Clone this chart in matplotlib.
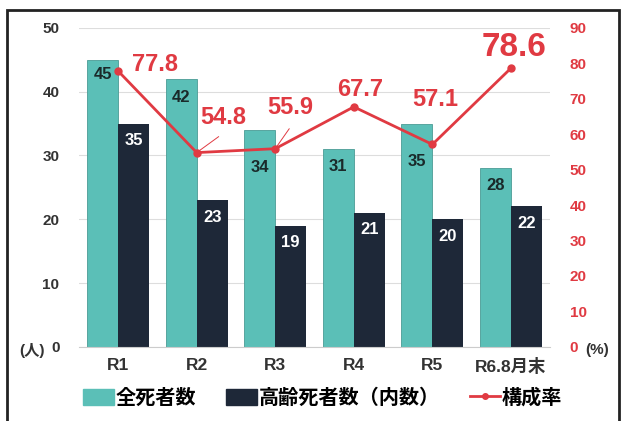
import numpy as np
import matplotlib.pyplot as plt
from matplotlib.patches import Rectangle
from matplotlib.lines import Line2D

plt.rcParams['font.family'] = ['Liberation Sans', 'Noto Sans CJK JP']
plt.rcParams['font.weight'] = 'bold'

# data
categories = ['R1', 'R2', 'R3', 'R4', 'R5', 'R6.8月末']
total_deaths = [45, 42, 34, 31, 35, 28]
elderly_deaths = [35, 23, 19, 21, 20, 22]
ratio = [77.8, 54.8, 55.9, 67.7, 57.1, 78.6]

teal = '#5bbfb7'
navy = '#1e2838'
red = '#e03a42'
grey = '#333333'

fig = plt.figure(figsize=(6.21, 4.21), dpi=100)
ax = fig.add_axes([0.127, 0.176, 0.759, 0.758])
ax2 = ax.twinx()

x = np.arange(len(categories))
w = 0.394
b1 = ax.bar(x - w/2, total_deaths, w, color=teal, edgecolor='#4a9c95', linewidth=0.6, zorder=2)
b2 = ax.bar(x + w/2, elderly_deaths, w, color=navy, zorder=2)

# value labels inside bars (some pushed down under the line)
teal_off = [-15, -19, -38, -17, -38, -17]
for xi, v, dy in zip(x, total_deaths, teal_off):
    ax.annotate(str(v), (xi - w/2, v), xytext=(0, dy), textcoords='offset pixels',
                ha='center', va='center', fontsize=12, color='#1a2a2a', zorder=3)
for xi, v in zip(x, elderly_deaths):
    ax.annotate(str(v), (xi + w/2, v), xytext=(0, -17), textcoords='offset pixels',
                ha='center', va='center', fontsize=12, color='white', zorder=3)

ax.set_xlim(-0.5, len(categories) - 0.5)
ax.set_ylim(0, 50)
ax.set_yticks(range(0, 51, 10))
ax.grid(axis='y', color='#dddddd', linewidth=0.8, zorder=0)
ax.set_axisbelow(True)
for s in ['top', 'right', 'left']:
    ax.spines[s].set_visible(False)
    ax2.spines[s].set_visible(False)
ax.spines['bottom'].set_color('#cccccc')
ax2.spines['bottom'].set_visible(False)
ax.tick_params(axis='y', length=0, pad=14, labelsize=11, labelcolor=grey)
ax.tick_params(axis='x', length=0, pad=8, labelsize=12.5, labelcolor=grey)
ax.set_xticks(x)
ax.set_xticklabels(categories)

ax2.plot(x, ratio, color=red, linewidth=2, marker='o', markersize=5, zorder=4)
ax2.set_ylim(0, 90)
ax2.set_yticks(range(0, 91, 10))
ax2.tick_params(axis='y', length=0, pad=14, labelsize=11, labelcolor=red)

# ratio labels (offset in pixels from the point)
offsets = [(37, 7), (27, 35), (15, 41), (6, 17), (3, 45), (3, 21)]
sizes = [17, 17, 17, 17, 17, 24]
for xi, v, off, fs in zip(x, ratio, offsets, sizes):
    ax2.annotate(f'{v}', (xi, v), xytext=off, textcoords='offset pixels',
                 ha='center', va='center', fontsize=fs, color=red, zorder=5)

# thin leader lines
ax2.annotate('', (1, ratio[1]), xytext=(22, 16), textcoords='offset pixels',
             arrowprops=dict(arrowstyle='-', color=red, lw=0.7, shrinkA=0, shrinkB=2))
ax2.annotate('', (2, ratio[2]), xytext=(14, 20), textcoords='offset pixels',
             arrowprops=dict(arrowstyle='-', color=red, lw=0.7, shrinkA=0, shrinkB=2))

fig.text(32/621, 1 - 350/421, '(人)', ha='center', va='center', fontsize=11, color=grey)
fig.text(597/621, 1 - 350/421, '(%)', ha='center', va='center', fontsize=11, color=grey)

handles = [Rectangle((0, 0), 1, 1, color=teal),
           Rectangle((0, 0), 1, 1, color=navy),
           Line2D([0], [0], color=red, marker='o', markersize=4, linewidth=2)]
fig.legend(handles, ['全死者数', '高齢死者数（内数）', '構成率'], loc='center',
           bbox_to_anchor=(0.52, 1 - 398/421), ncol=3, frameon=False,
           fontsize=14.5, handlelength=1.5, handleheight=0.8, columnspacing=1.5,
           handletextpad=0.1)

fig.patches.append(Rectangle((7/621, -0.1), 612/621, 1.1 - 10/421, transform=fig.transFigure,
                             fill=False, edgecolor='#222222', linewidth=2))

fig.savefig('out.png', dpi=100)
